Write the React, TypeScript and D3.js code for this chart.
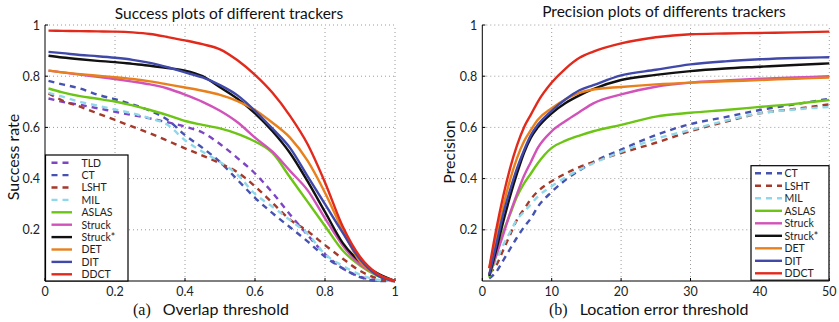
import React from "react";
import * as d3 from "d3";

// ---------- Data ----------
const successX = [0.01, 0.05, 0.1, 0.15, 0.2, 0.25, 0.3, 0.35, 0.4, 0.45, 0.5, 0.55, 0.6, 0.65, 0.7, 0.75, 0.8, 0.85, 0.9, 0.95, 1];
const succTLD = [0.713, 0.7, 0.688, 0.675, 0.661, 0.648, 0.635, 0.62, 0.603, 0.58, 0.535, 0.48, 0.42, 0.345, 0.26, 0.18, 0.105, 0.05, 0.017, 0.003, 0];
const succCT = [0.782, 0.768, 0.752, 0.728, 0.71, 0.69, 0.665, 0.63, 0.57, 0.52, 0.465, 0.395, 0.325, 0.265, 0.21, 0.155, 0.095, 0.05, 0.015, 0.0, 0];
const succLSHT = [0.733, 0.705, 0.681, 0.655, 0.629, 0.603, 0.577, 0.548, 0.518, 0.49, 0.46, 0.425, 0.37, 0.305, 0.24, 0.195, 0.14, 0.088, 0.04, 0.01, 0];
const succMIL = [0.735, 0.72, 0.7, 0.685, 0.67, 0.655, 0.635, 0.61, 0.55, 0.505, 0.465, 0.415, 0.34, 0.29, 0.238, 0.185, 0.105, 0.06, 0.025, 0.005, 0];
const succASLAS = [0.752, 0.737, 0.722, 0.712, 0.701, 0.686, 0.668, 0.648, 0.625, 0.61, 0.596, 0.575, 0.545, 0.5, 0.405, 0.31, 0.215, 0.12, 0.06, 0.02, 0];
const succStruck = [0.822, 0.815, 0.806, 0.798, 0.789, 0.779, 0.768, 0.752, 0.728, 0.7, 0.665, 0.62, 0.56, 0.505, 0.43, 0.355, 0.245, 0.14, 0.065, 0.025, 0];
const succStruckS = [0.88, 0.873, 0.866, 0.86, 0.855, 0.848, 0.841, 0.832, 0.822, 0.8, 0.757, 0.712, 0.655, 0.585, 0.5, 0.39, 0.27, 0.15, 0.075, 0.03, 0];
const succDET = [0.822, 0.815, 0.808, 0.802, 0.796, 0.789, 0.78, 0.768, 0.756, 0.743, 0.727, 0.703, 0.668, 0.618, 0.56, 0.47, 0.345, 0.2, 0.075, 0.025, 0];
const succDIT = [0.895, 0.89, 0.883, 0.878, 0.872, 0.864, 0.852, 0.835, 0.815, 0.795, 0.765, 0.725, 0.665, 0.595, 0.52, 0.41, 0.3, 0.19, 0.085, 0.022, 0];
const succDDCT = [0.978, 0.977, 0.976, 0.975, 0.974, 0.971, 0.965, 0.953, 0.94, 0.925, 0.905, 0.862, 0.805, 0.735, 0.645, 0.535, 0.385, 0.215, 0.095, 0.028, 0];

const precX = [1, 2, 3, 4, 5, 6, 7, 8, 10, 12, 14, 16, 20, 25, 30, 35, 40, 45, 50];
const precCT = [0.01, 0.035, 0.08, 0.125, 0.17, 0.21, 0.245, 0.29, 0.348, 0.395, 0.432, 0.465, 0.513, 0.57, 0.613, 0.64, 0.668, 0.69, 0.712];
const precLSHT = [0.03, 0.06, 0.12, 0.18, 0.24, 0.28, 0.32, 0.35, 0.39, 0.42, 0.445, 0.465, 0.5, 0.54, 0.585, 0.622, 0.655, 0.672, 0.69];
const precMIL = [0.02, 0.08, 0.14, 0.19, 0.24, 0.27, 0.3, 0.33, 0.37, 0.405, 0.435, 0.46, 0.505, 0.555, 0.59, 0.626, 0.655, 0.67, 0.68];
const precASLAS = [0.015, 0.1, 0.19, 0.26, 0.33, 0.38, 0.42, 0.46, 0.52, 0.548, 0.568, 0.585, 0.61, 0.642, 0.657, 0.668, 0.68, 0.692, 0.707];
const precStruck = [0.025, 0.1, 0.18, 0.265, 0.34, 0.41, 0.465, 0.52, 0.585, 0.625, 0.66, 0.694, 0.729, 0.759, 0.775, 0.783, 0.79, 0.795, 0.8];
const precStruckS = [0.02, 0.12, 0.23, 0.33, 0.42, 0.5, 0.56, 0.6, 0.655, 0.695, 0.725, 0.75, 0.785, 0.805, 0.82, 0.83, 0.837, 0.844, 0.85];
const precDET = [0.05, 0.17, 0.29, 0.395, 0.48, 0.545, 0.59, 0.63, 0.675, 0.71, 0.735, 0.748, 0.758, 0.768, 0.775, 0.78, 0.785, 0.79, 0.795];
const precDIT = [0.025, 0.14, 0.26, 0.355, 0.44, 0.51, 0.57, 0.61, 0.665, 0.71, 0.745, 0.765, 0.803, 0.825, 0.846, 0.858, 0.866, 0.871, 0.874];
const precDDCT = [0.05, 0.2, 0.33, 0.44, 0.53, 0.6, 0.65, 0.7, 0.775, 0.83, 0.872, 0.896, 0.928, 0.952, 0.964, 0.967, 0.969, 0.971, 0.974];

const successTicksX = [0, 0.2, 0.4, 0.6, 0.8, 1];
const precTicksX = [0, 10, 20, 30, 40, 50];
const ticksY = [0.2, 0.4, 0.6, 0.8, 1];

type Series = { name: string; color: string; dashed: boolean; values: number[] };

const successSeries: Series[] = [
  { name: "TLD", color: "#7d44c4", dashed: true, values: succTLD },
  { name: "CT", color: "#4552b2", dashed: true, values: succCT },
  { name: "LSHT", color: "#a5392a", dashed: true, values: succLSHT },
  { name: "MIL", color: "#8fd8ea", dashed: true, values: succMIL },
  { name: "ASLAS", color: "#6cc514", dashed: false, values: succASLAS },
  { name: "Struck", color: "#d152b8", dashed: false, values: succStruck },
  { name: "Struck*", color: "#111111", dashed: false, values: succStruckS },
  { name: "DET", color: "#e8801c", dashed: false, values: succDET },
  { name: "DIT", color: "#4049aa", dashed: false, values: succDIT },
  { name: "DDCT", color: "#e22a1c", dashed: false, values: succDDCT },
];

const precSeries: Series[] = [
  { name: "CT", color: "#4552b2", dashed: true, values: precCT },
  { name: "LSHT", color: "#a5392a", dashed: true, values: precLSHT },
  { name: "MIL", color: "#8fd8ea", dashed: true, values: precMIL },
  { name: "ASLAS", color: "#6cc514", dashed: false, values: precASLAS },
  { name: "Struck", color: "#d152b8", dashed: false, values: precStruck },
  { name: "Struck*", color: "#111111", dashed: false, values: precStruckS },
  { name: "DET", color: "#e8801c", dashed: false, values: precDET },
  { name: "DIT", color: "#4049aa", dashed: false, values: precDIT },
  { name: "DDCT", color: "#e22a1c", dashed: false, values: precDDCT },
];

const FONT = "Lato, 'Open Sans', sans-serif";

type PanelProps = {
  x0: number; x1: number; y0: number; y1: number;
  domain: [number, number];
  xs: number[];
  series: Series[];
  ticksX: number[];
  title: string; titleX: number; titleY: number;
  yLabel: string; yLabelX: number; yLabelY: number;
  cap: string; capX: number; xLabel: string;
  legend: { x: number; y: number; w: number; h: number; rowY0: number; rowH: number; lx0: number; lx1: number; tx: number };
};

function Panel(p: PanelProps) {
  const xScale = d3.scaleLinear().domain(p.domain).range([p.x0, p.x1]);
  const yScale = d3.scaleLinear().domain([0, 1]).range([p.y0, p.y1]);
  const line = d3
    .line<number>()
    .x((_, i) => xScale(p.xs[i]))
    .y((v) => yScale(v))
    .curve(d3.curveMonotoneX);
  const fmt = (v: number) => (v === 0 ? "0" : v === 1 ? "1" : String(v));
  return (
    <g>
      {p.ticksX.filter((t) => t !== p.domain[0]).map((t) => (
        <line key={"gx" + t} x1={xScale(t)} x2={xScale(t)} y1={p.y0} y2={p.y1} stroke="#9a9a9a" strokeWidth={1} strokeDasharray="1,3" />
      ))}
      {ticksY.map((t) => (
        <line key={"gy" + t} x1={p.x0} x2={p.x1} y1={yScale(t)} y2={yScale(t)} stroke="#9a9a9a" strokeWidth={1} strokeDasharray="1,3" />
      ))}
      <line x1={p.x0} x2={p.x0} y1={p.y0} y2={p.y1} stroke="#000" strokeWidth={1} />
      <line x1={p.x0} x2={p.x1} y1={p.y0} y2={p.y0} stroke="#000" strokeWidth={1} />
      {ticksY.map((t) => (
        <line key={"ty" + t} x1={p.x0} x2={p.x0 + 3} y1={yScale(t)} y2={yScale(t)} stroke="#000" strokeWidth={1} />
      ))}
      {p.ticksX.map((t) => (
        <line key={"tx" + t} x1={xScale(t)} x2={xScale(t)} y1={p.y0} y2={p.y0 - 3} stroke="#000" strokeWidth={1} />
      ))}
      {ticksY.map((t) => (
        <text key={"ly" + t} x={p.x0 - 5} y={yScale(t) + 4.5} textAnchor="end" fontSize={12.5} fontFamily={FONT} fill="#222">
          {fmt(t)}
        </text>
      ))}
      {p.ticksX.map((t) => (
        <text key={"lx" + t} x={xScale(t)} y={295.5} textAnchor="middle" fontSize={12.5} fontFamily={FONT} fill="#222">
          {fmt(t)}
        </text>
      ))}
      {p.series.map((s) => (
        <path
          key={s.name}
          d={line(s.values) || ""}
          fill="none"
          stroke={s.color}
          strokeWidth={2.4}
          strokeDasharray={s.dashed ? "6,5" : undefined}
          strokeLinejoin="round"
        />
      ))}
      <text x={p.titleX} y={p.titleY} textAnchor="middle" fontSize={15.5} fontFamily={FONT} fill="#111">
        {p.title}
      </text>
      <text transform={`translate(${p.yLabelX},${p.yLabelY}) rotate(-90)`} textAnchor="middle" fontSize={16} fontFamily={FONT} fill="#111">
        {p.yLabel}
      </text>
      <text x={p.capX} y={315} fontSize={16} fontFamily={FONT} fill="#111">
        <tspan fontFamily="'Liberation Serif', 'DejaVu Serif', serif">{p.cap}</tspan>
        <tspan dx={12}>{p.xLabel}</tspan>
      </text>
      <rect x={p.legend.x} y={p.legend.y} width={p.legend.w} height={p.legend.h} fill="#fff" stroke="#000" strokeWidth={1.2} />
      {p.series.map((s, i) => {
        const yy = p.legend.rowY0 + i * p.legend.rowH;
        return (
          <g key={"lg" + s.name}>
            <line x1={p.legend.lx0} x2={p.legend.lx1} y1={yy} y2={yy} stroke={s.color} strokeWidth={2.4} strokeDasharray={s.dashed ? "6,5" : undefined} />
            <text x={p.legend.tx} y={yy + 3.8} fontSize={10.5} fontFamily={FONT} fill="#222">
              {s.name}
            </text>
          </g>
        );
      })}
    </g>
  );
}

export default function App() {
  return (
    <svg width={839} height={322} style={{ position: "absolute", left: 0, top: 0, background: "#fff" }}>
      <rect x={0} y={0} width={839} height={322} fill="#fff" />
      <Panel
        x0={45} x1={395} y0={281} y1={25}
        domain={[0, 1]}
        xs={successX}
        series={successSeries}
        ticksX={successTicksX}
        title="Success plots of different trackers" titleX={229} titleY={18.5}
        yLabel="Success rate" yLabelX={19} yLabelY={157}
        cap="(a)" capX={133} xLabel="Overlap threshold"
        legend={{ x: 45.5, y: 155, w: 82.5, h: 126, rowY0: 162.7, rowH: 12.4, lx0: 51.5, lx1: 72, tx: 81.5 }}
      />
      <Panel
        x0={482.3} x1={829.3} y0={281} y1={25}
        domain={[0, 50]}
        xs={precX}
        series={precSeries}
        ticksX={precTicksX}
        title="Precision plots of differents trackers" titleX={664} titleY={17}
        yLabel="Precision" yLabelX={455} yLabelY={152}
        cap="(b)" capX={549} xLabel="Location error threshold"
        legend={{ x: 751, y: 165.7, w: 78, h: 114.5, rowY0: 173.3, rowH: 12.5, lx0: 755, lx1: 782, tx: 784.5 }}
      />
    </svg>
  );
}
